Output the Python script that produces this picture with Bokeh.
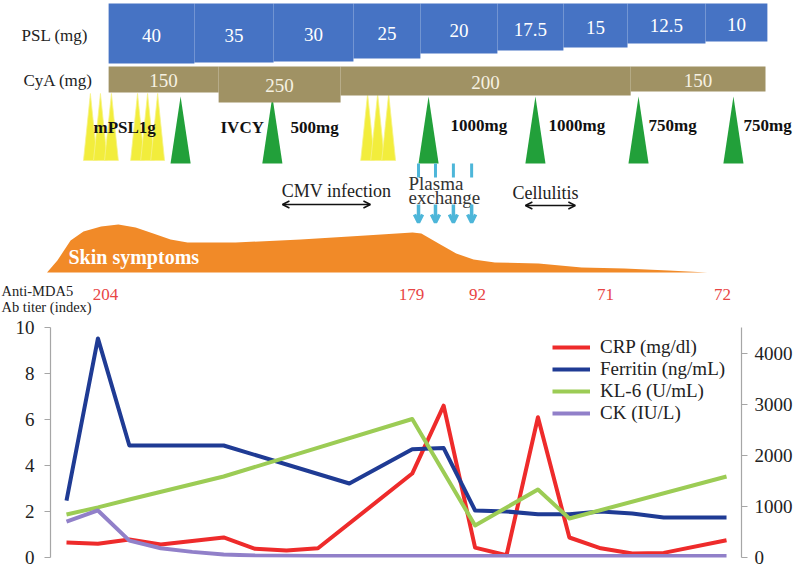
from bokeh.plotting import figure
from bokeh.models import Range1d, LinearAxis, FixedTicker, Arrow, OpenHead
from bokeh.core.properties import value
from bokeh.embed import file_html
from bokeh.resources import INLINE

# ---------------- data (time in lab-visit index units) ----------------
psl_dose = ["40", "35", "30", "25", "20", "17.5", "15", "12.5", "10"]
psl_change_t = [1.34, 4.07, 6.59, 9.13, 11.26, 13.71, 15.81, 17.85, 20.33, 22.30]
cya_dose = ["150", "250", "200", "150"]
cya_change_t = [1.34, 4.84, 8.72, 17.95, 22.24]
mpsl_pulse_t = [0.76, 1.08, 1.43, 2.26, 2.58, 2.90, 9.58, 9.90, 10.25]
ivcy_t = [3.63, 6.55, 11.52, 14.92, 18.20, 21.22]
plasma_exchange_t = [11.20, 11.74, 12.31, 12.89]
cmv_period = [6.87, 9.67]
cellulitis_period = [14.60, 16.19]
skin_t = [-0.62, -0.29, 0.13, 0.54, 1.10, 1.65, 2.20, 2.76, 3.31, 3.85, 5.38, 7.45,
          9.51, 11.01, 11.29, 11.84, 12.40, 12.95, 13.63, 15.02, 16.39, 17.75, 19.15, 20.39]
skin_score = [0, 12, 32, 41, 46, 48, 45, 39, 33, 30, 30, 33,
              37, 40, 39, 29, 19, 13, 10, 9, 5, 4, 2, 0]
titer_t = [1.24, 10.98, 13.08, 17.15, 20.87]
titer_vals = [204, 179, 92, 71, 72]

crp_t = [0, 1, 2, 3, 5, 6, 7, 8, 11, 12, 13, 14, 15, 16, 17, 18, 19, 21]
crp = [0.65, 0.6, 0.78, 0.57, 0.87, 0.38, 0.3, 0.4, 3.65, 6.6, 0.43, 0.1, 6.1, 0.87, 0.4, 0.17, 0.2, 0.75]
ferritin_t = [0, 1, 2, 5, 9, 11, 12, 13, 14, 15, 16, 17, 18, 19, 21]
ferritin = [1115, 4286, 2192, 2192, 1448, 2120, 2140, 920, 900, 845, 845, 900, 860, 783, 783]
kl6_t = [0, 1, 2, 5, 11, 13, 15, 16, 21]
kl6 = [840, 980, 1135, 1585, 2710, 626, 1330, 763, 1585]
ck_t = [0, 1, 2, 3, 4, 5, 6, 8, 21]
ck = [700, 920, 330, 180, 110, 60, 40, 30, 30]

left_ticks = [0, 2, 4, 6, 8, 10]
right_ticks = [0, 1000, 2000, 3000, 4000]

# ---------------- layout helpers ----------------
X0, DX = 66.0, 31.43          # screen px of t=0 and px per time unit


def px2t(px):
    return (px - X0) / DX


SERIF = value("Liberation Serif")
BLUE, OLIVE, ORANGE = "#4673c4", "#a09264", "#f18a28"
YELLOW, GREEN, LBLUE = "#f2ed3c", "#22a03a", "#4db6d9"

# ---------------- top timeline ----------------
top = figure(width=800, height=318, x_range=Range1d(px2t(0), px2t(800)),
             y_range=Range1d(318, 0), x_axis_type=None, y_axis_type=None,
             toolbar_location=None, output_backend="svg", min_border=0,
             outline_line_color=None)

# yellow mPSL pulses and green IVCY
top.patches(xs=[[t - 0.22, t, t + 0.22] for t in mpsl_pulse_t],
            ys=[[160, 93, 160] for _ in mpsl_pulse_t],
            fill_color=YELLOW, line_color="#f6f28a", line_width=0.8)
top.patches(xs=[[t - 0.32, t, t + 0.32] for t in ivcy_t],
            ys=[[163, 96, 163] for _ in ivcy_t], fill_color=GREEN, line_color=None)

# PSL bar
psl_bottom = [63, 62, 61, 58, 53, 50, 47, 43, 41]
top.quad(left=psl_change_t[:-1], right=psl_change_t[1:], top=3, bottom=psl_bottom,
         fill_color=BLUE, line_color=None)
psl_mid = [(a + b) / 2 for a, b in zip(psl_change_t[:-1], psl_change_t[1:])]
top.text(x=psl_mid, y=[(3 + b) / 2 + 2 for b in psl_bottom], text=psl_dose,
         text_font=SERIF, text_font_size="19px", text_color="white",
         text_align="center", text_baseline="middle")

# CyA bar
cya_bottom = [92, 102, 95, 91]
top.quad(left=cya_change_t[:-1], right=cya_change_t[1:], top=66, bottom=cya_bottom,
         fill_color=OLIVE, line_color=None)
cya_mid = [(a + b) / 2 for a, b in zip(cya_change_t[:-1], cya_change_t[1:])]
top.text(x=cya_mid, y=[(66 + b) / 2 + 1 for b in cya_bottom], text=cya_dose,
         text_font=SERIF, text_font_size="19px", text_color="#f6f1e2",
         text_align="center", text_baseline="middle")

top.text(x=[px2t(21), px2t(23)], y=[35, 80], text=["PSL (mg)", "CyA (mg)"],
         text_font=SERIF, text_font_size="17px", text_color="#222222",
         text_baseline="middle")

# treatment labels
top.text(x=[px2t(93), px2t(220), px2t(290), px2t(450), px2t(548), px2t(648), px2t(743)],
         y=[127, 127, 127, 125, 125, 125, 125],
         text=["mPSL1g", "IVCY", "500mg", "1000mg", "1000mg", "750mg", "750mg"],
         text_font=SERIF, text_font_size="17px", text_font_style="bold",
         text_color="#111111", text_baseline="middle")

# events
top.text(x=[px2t(336), px2t(545)], y=[190, 192], text=["CMV infection", "Cellulitis"],
         text_font=SERIF, text_font_size="18px", text_color="#222222",
         text_align="center", text_baseline="middle")
for a, b, y in [(cmv_period[0], cmv_period[1], 204), (cellulitis_period[0], cellulitis_period[1], 205)]:
    top.add_layout(Arrow(x_start=a, y_start=y, x_end=b, y_end=y, line_width=1.5,
                         line_color="#111111",
                         start=OpenHead(size=7, line_width=1.5, line_color="#111111"),
                         end=OpenHead(size=7, line_width=1.5, line_color="#111111")))

top.segment(x0=plasma_exchange_t, y0=163, x1=plasma_exchange_t, y1=177,
            line_color=LBLUE, line_width=3)
for t in plasma_exchange_t:
    top.add_layout(Arrow(x_start=t, y_start=204, x_end=t, y_end=222, line_width=3.5,
                         line_color=LBLUE,
                         end=OpenHead(size=8, line_width=3.5, line_color=LBLUE)))
top.text(x=[px2t(408), px2t(408)], y=[183, 197], text=["Plasma", "exchange"],
         text_font=SERIF, text_font_size="19px", text_color="#333333",
         text_baseline="middle")

# skin symptoms
top.varea(x=skin_t, y1=272, y2=[272 - s for s in skin_score], fill_color=ORANGE)
top.text(x=[px2t(68)], y=[256], text=["Skin symptoms"], text_font=SERIF,
         text_font_size="20px", text_font_style="bold", text_color="white",
         text_baseline="middle")

# anti-MDA5 titers
top.text(x=[px2t(1), px2t(1)], y=[290, 306], text=["Anti-MDA5", "Ab titer (index)"],
         text_font=SERIF, text_font_size="14.5px", text_color="#222222",
         text_baseline="middle")
top.text(x=titer_t, y=294, text=[str(v) for v in titer_vals], text_font=SERIF,
         text_font_size="17px", text_color="#e84545", text_align="center",
         text_baseline="middle")

# ---------------- bottom lab chart ----------------
ytop = 10 + 9 / 23
bot = figure(width=800, height=251, x_range=Range1d(px2t(50), px2t(741)),
             y_range=Range1d(0, ytop), x_axis_type=None, toolbar_location=None,
             output_backend="svg", min_border_left=50, min_border_right=59,
             min_border_top=0, min_border_bottom=12, outline_line_color=None)
bot.extra_y_ranges = {"right": Range1d(0, ytop * 450)}
bot.ygrid.visible = False
bot.xgrid.visible = False

bot.line(crp_t, crp, line_color="#ee2b2b", line_width=4, line_join="round",
         legend_label="CRP (mg/dl)")
bot.line(ferritin_t, ferritin, line_color="#1f3b94", line_width=4, line_join="round",
         y_range_name="right", legend_label="Ferritin (ng/mL)")
bot.line(kl6_t, kl6, line_color="#9ccc55", line_width=4, line_join="round",
         y_range_name="right", legend_label="KL-6 (U/mL)")
bot.line(ck_t, ck, line_color="#9180c9", line_width=4, line_join="round",
         y_range_name="right", legend_label="CK (IU/L)")

right_axis = LinearAxis(y_range_name="right")
bot.add_layout(right_axis, "right")
left_axis = bot.yaxis[0]
left_axis.ticker = FixedTicker(ticks=left_ticks)
left_axis.bounds = (0, 10)
right_axis.ticker = FixedTicker(ticks=right_ticks)
right_axis.bounds = (0, 4500)
for ax in (left_axis, right_axis):
    ax.axis_line_color = "#a6a6a6"
    ax.axis_line_width = 1.2
    ax.major_tick_line_color = "#a6a6a6"
    ax.major_tick_out = 6
    ax.major_tick_in = 0
    ax.minor_tick_line_color = None
    ax.major_label_text_font = "Liberation Serif"
    ax.major_label_text_font_size = "19px"
    ax.major_label_text_color = "#222222"
left_axis.major_label_standoff = 10
right_axis.major_label_standoff = 7

lg = bot.legend[0]
lg.location = (502, 133)
lg.padding = 0
lg.margin = 0
lg.spacing = 0
lg.glyph_width = 38
lg.glyph_height = 20
lg.label_height = 20
lg.label_standoff = 10
lg.label_text_font = "Liberation Serif"
lg.label_text_font_size = "19px"
lg.label_text_color = "#222222"
lg.border_line_color = None
lg.background_fill_alpha = 0

open("out.html", "w").write(file_html([top, bot], INLINE))
